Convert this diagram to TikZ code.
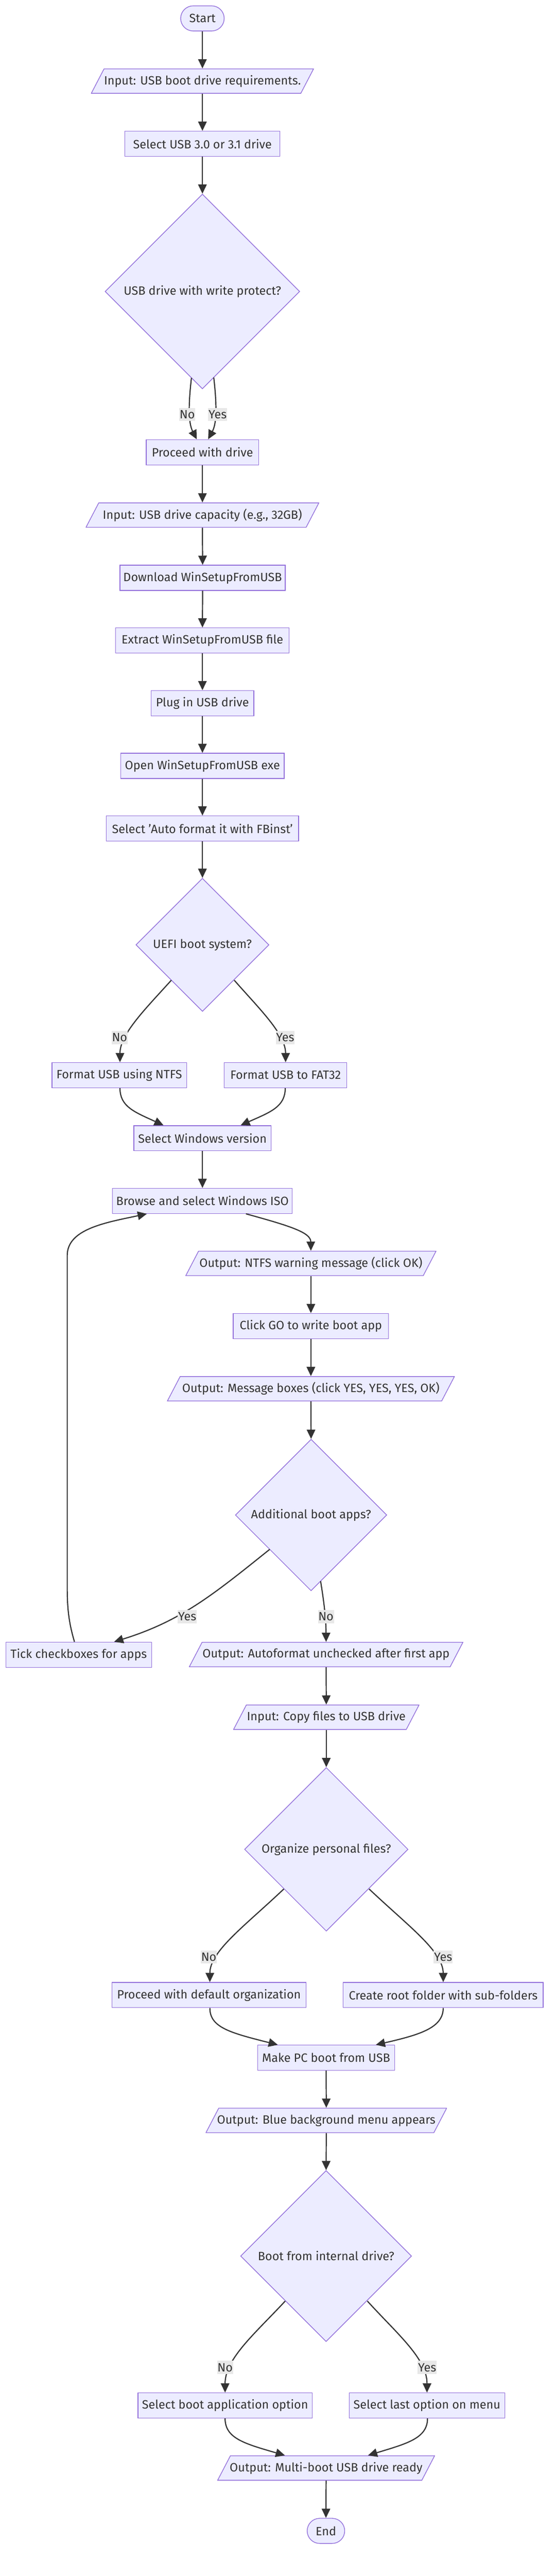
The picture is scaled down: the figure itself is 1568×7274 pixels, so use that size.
\documentclass[tikz,border=0pt]{standalone}
\usepackage{fontspec}
\setmainfont{Fira Sans}
\usetikzlibrary{shapes.geometric,arrows.meta,calc}
\definecolor{nfill}{HTML}{ECECFF}
\definecolor{nstroke}{HTML}{9370DB}
\definecolor{ink}{HTML}{333333}
\definecolor{lblbg}{HTML}{E8E8E8}
\begin{document}
\begin{tikzpicture}[x=1pt,y=-1pt,
  every node/.style={font=\fontsize{34}{40}\selectfont, text=ink},
  base/.style={draw=nstroke, fill=nfill, line width=2pt, inner sep=0pt, minimum height=71pt},
  box/.style={base, rectangle},
  term/.style={base, rectangle, rounded corners=35.5pt},
  dec/.style={base, diamond, aspect=1},
  para/.style={rectangle, draw=none, fill=white, inner sep=0pt, minimum height=71pt,
    path picture={
      \filldraw[fill=nfill, draw=nstroke, line width=2pt]
        ([shift={(37pt,-1pt)}]path picture bounding box.north west) --
        ([shift={(-1pt,-1pt)}]path picture bounding box.north east) --
        ([shift={(-37pt,1pt)}]path picture bounding box.south east) --
        ([shift={(1pt,1pt)}]path picture bounding box.south west) -- cycle;
    }},
  edge/.style={draw=ink, line width=3.2pt, -{Triangle[length=26pt,width=24pt]}},
  lbl/.style={fill=lblbg, inner xsep=1pt, inner ysep=0pt, minimum height=37pt}
]
\useasboundingbox (0,0) rectangle (1568,7274);

% nodes
\node[term, minimum width=123pt] (start) at (572,52) {Start};
\node[para, minimum width=630pt] (in1) at (572,229) {Input: USB boot drive requirements.};
\node[box, minimum width=438pt] (sel) at (572,406) {Select USB 3.0 or 3.1 drive};
\node[dec, minimum width=550pt, minimum height=550pt] (d1) at (572,823) {USB drive with write protect?};
\node[box, minimum width=318pt] (proc) at (572,1277) {Proceed with drive};
\node[para, minimum width=660pt] (in2) at (572,1454.5) {Input: USB drive capacity (e.g., 32GB)};
\node[box, minimum width=467pt] (dl) at (572.5,1631.5) {Download WinSetupFromUSB};
\node[box, minimum width=490pt] (ex) at (572,1808.5) {Extract WinSetupFromUSB file};
\node[box, minimum width=290pt] (plug) at (572,1985.5) {Plug in USB drive};
\node[box, minimum width=462pt] (open) at (572,2162.5) {Open WinSetupFromUSB exe};
\node[box, minimum width=544pt] (auto) at (572,2339.5) {Select 'Auto format it with FBinst'};
\node[dec, minimum width=376pt, minimum height=376pt] (d2) at (572,2668) {UEFI boot system?};
\node[box, minimum width=380pt] (ntfs) at (337,3036) {Format USB using NTFS};
\node[box, minimum width=346pt] (fat) at (807,3036) {Format USB to FAT32};
\node[box, minimum width=388pt] (win) at (572,3214) {Select Windows version};
\node[box, minimum width=508pt] (iso) at (572,3391) {Browse and select Windows ISO};
\node[para, minimum width=709pt] (ontfs) at (878.5,3567.5) {Output: NTFS warning message (click OK)};
\node[box, minimum width=439pt] (go) at (878.5,3744.5) {Click GO to write boot app};
\node[para, minimum width=813pt] (omsg) at (878.5,3921.5) {Output: Message boxes (click YES, YES, YES, OK)};
\node[dec, minimum width=428pt, minimum height=428pt] (d3) at (879,4278) {Additional boot apps?};
\node[box, minimum width=411pt] (tick) at (222.5,4672.5) {Tick checkboxes for apps};
\node[para, minimum width=775pt] (oauto) at (921.5,4672) {Output: Autoformat unchecked after first app};
\node[para, minimum width=526pt] (incopy) at (922,4849) {Input: Copy files to USB drive};
\node[dec, minimum width=462pt, minimum height=462pt] (d4) at (922,5222) {Organize personal files?};
\node[box, minimum width=549pt] (pdef) at (590.5,5633.5) {Proceed with default organization};
\node[box, minimum width=565pt] (root) at (1252.5,5633.5) {Create root folder with sub-folders};
\node[box, minimum width=387pt] (mkpc) at (921.5,5810.5) {Make PC boot from USB};
\node[para, minimum width=682pt] (oblue) at (922,5987.5) {Output: Blue background menu appears};
\node[dec, minimum width=483pt, minimum height=483pt] (d5) at (921.5,6370.5) {Boot from internal drive?};
\node[box, minimum width=492pt] (sboot) at (636,6792.5) {Select boot application option};
\node[box, minimum width=439pt] (slast) at (1206.5,6792.5) {Select last option on menu};
\node[para, minimum width=615pt] (omulti) at (921.5,6969) {Output: Multi-boot USB drive ready};
\node[term, minimum width=106pt] (end) at (921,7146.5) {End};

% straight connectors
\draw[edge] (start.south) -- (in1.north);
\draw[edge] (in1.south) -- (sel.north);
\draw[edge] (sel.south) -- (d1.north);
\draw[edge] (proc.south) -- (in2.north);
\draw[edge] (in2.south) -- (dl.north);
\draw[edge] (dl.south) -- (ex.north);
\draw[edge] (ex.south) -- (plug.north);
\draw[edge] (plug.south) -- (open.north);
\draw[edge] (open.south) -- (auto.north);
\draw[edge] (auto.south) -- (d2.north);
\draw[edge] (win.south) -- (iso.north);
\draw[edge] (ontfs.south) -- (go.north);
\draw[edge] (go.south) -- (omsg.north);
\draw[edge] (omsg.south) -- (d3.north);
\draw[edge] (oauto.south) -- (incopy.north);
\draw[edge] (incopy.south) -- (d4.north);
\draw[edge] (mkpc.south) -- (oblue.north);
\draw[edge] (oblue.south) -- (d5.north);
\draw[edge] (omulti.south) -- (end.north);

% curved connectors
\draw[edge] ($(d1.center)+(-31,244)$) .. controls (530,1160) and (535,1200) .. ([xshift=-16pt]proc.north);
\draw[edge] ($(d1.center)+(32,243)$) .. controls (615,1160) and (610,1200) .. ([xshift=16pt]proc.north);

\draw[edge] ($(d2.center)+(-88,100)$) .. controls (410,2850) and (339,2920) .. ([xshift=2pt]ntfs.north);
\draw[edge] ($(d2.center)+(90,100)$) .. controls (734,2850) and (807,2920) .. (fat.north);

\draw[edge] ([xshift=2pt]ntfs.south) .. controls (339,3125) and (380,3140) .. ([xshift=-110pt]win.north);
\draw[edge] ([xshift=-1pt]fat.south) .. controls (806,3125) and (765,3140) .. ([xshift=108pt]win.north);

\draw[edge] ([xshift=123pt]iso.south) .. controls (820,3462) and (878,3480) .. (ontfs.north);

\draw[edge] ($(d3.center)+(-117,97)$) .. controls (600,4505) and (510,4578) .. ([xshift=100pt]tick.north);
\draw[edge] ($(d3.center)+(27,187)$) .. controls (913,4510) and (921,4560) .. (oauto.north);

\draw[edge] ([xshift=-12pt]tick.north) .. controls (192,4575) and (190,4530) .. (190,4480)
  -- (190,3545) .. controls (190,3470) and (300,3452) .. ([xshift=-157pt]iso.south);

\draw[edge] ($(d4.center)+(-120,112)$) .. controls (690,5440) and (593,5510) .. ([xshift=2.5pt]pdef.north);
\draw[edge] ($(d4.center)+(121,112)$) .. controls (1155,5440) and (1252,5510) .. (root.north);

\draw[edge] ([xshift=2.5pt]pdef.south) .. controls (593,5725) and (650,5740) .. ([xshift=-136.5pt]mkpc.north);
\draw[edge] (root.south) .. controls (1252,5725) and (1190,5745) .. ([xshift=140.5pt]mkpc.north);

\draw[edge] ($(d5.center)+(-115.5,127)$) .. controls (720,6590) and (636,6660) .. (sboot.north);
\draw[edge] ($(d5.center)+(116.5,127)$) .. controls (1122,6590) and (1207,6660) .. (slast.north);

\draw[edge] (sboot.south) .. controls (636,6885) and (690,6900) .. ([xshift=-116.5pt]omulti.north);
\draw[edge] ([xshift=1.5pt]slast.south) .. controls (1208,6885) and (1150,6900) .. ([xshift=118.5pt]omulti.north);

% edge labels
\node[lbl] (l1n) at (529,1170) {No};
\node[lbl] (l1y) at (615,1170) {Yes};
\node[lbl] (l2n) at (338,2930) {No};
\node[lbl] (l2y) at (806,2930) {Yes};
\node[lbl] (l3y) at (529,4565) {Yes};
\node[lbl] (l3n) at (921,4565) {No};
\node[lbl] (l4n) at (590,5526) {No};
\node[lbl] (l4y) at (1252,5526) {Yes};
\node[lbl] (l5n) at (636,6685) {No};
\node[lbl] (l5y) at (1207,6685) {Yes};
\end{tikzpicture}
\end{document}
